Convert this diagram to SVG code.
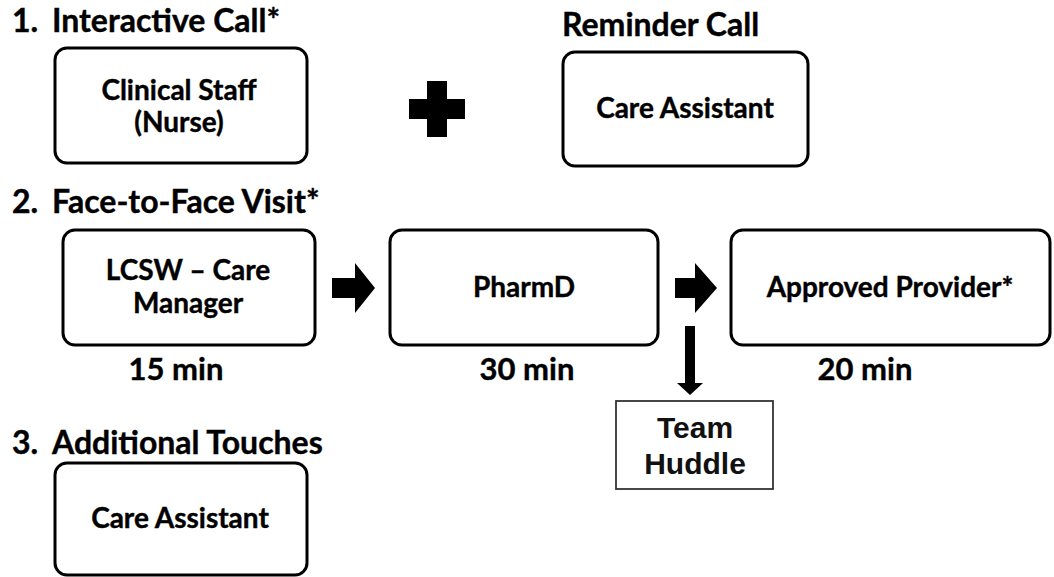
<svg xmlns="http://www.w3.org/2000/svg" width="1054" height="577" viewBox="0 0 1054 577">
<style>
.h{font-family:Lato,"Liberation Sans",sans-serif;font-weight:bold;font-size:32px;fill:#000;stroke:#000;stroke-width:0.4}
.t{font-family:Lato,"Liberation Sans",sans-serif;font-weight:bold;font-size:28px;fill:#000;stroke:#000;stroke-width:0.4;text-anchor:middle}
.m{font-family:Lato,"Liberation Sans",sans-serif;font-weight:bold;font-size:31px;fill:#000;stroke:#000;stroke-width:0.4;text-anchor:middle}
.a{font-family:"Liberation Sans",Arial,sans-serif;font-weight:bold;font-size:30px;fill:#111;text-anchor:middle}
.box{fill:#fff;stroke:#000;stroke-width:3}
.sq{fill:#fff;stroke:#333;stroke-width:1.8}
</style>
<rect width="1054" height="577" fill="#fff"/>
<g id="headers">
<text class="h" x="12" y="32">1.</text><text class="h" x="52" y="32">Interactive Call*</text>
<text class="h" x="562" y="36">Reminder Call</text>
<text class="h" x="12" y="213">2.</text><text class="h" x="52" y="213">Face-to-Face Visit*</text>
<text class="h" x="12" y="454">3.</text><text class="h" x="52" y="454">Additional Touches</text>
</g>
<g id="clinical-staff">
<rect class="box" x="55" y="48" width="252" height="115" rx="12"/>
<text class="t" x="179" y="100">Clinical Staff</text>
<text class="t" x="179" y="132">(Nurse)</text>
</g>
<g id="plus">
<path d="M427 81h20v18h18v20h-18v18h-20v-18h-18v-20h18z" fill="#000"/>
</g>
<g id="reminder-care-assistant">
<rect class="box" x="563" y="52" width="245" height="114" rx="12"/>
<text class="t" x="685" y="118">Care Assistant</text>
</g>
<g id="lcsw">
<rect class="box" x="63" y="230" width="252" height="115" rx="12"/>
<text class="t" x="188" y="280">LCSW – Care</text>
<text class="t" x="188" y="313">Manager</text>
<text class="m" x="176" y="380">15 min</text>
</g>
<g id="pharmd">
<rect class="box" x="390" y="230" width="268" height="115" rx="12"/>
<text class="t" x="524" y="297">PharmD</text>
<text class="m" x="527" y="380">30 min</text>
</g>
<g id="approved-provider">
<rect class="box" x="731" y="230" width="319" height="115" rx="12"/>
<text class="t" x="890" y="297">Approved Provider*</text>
<text class="m" x="865" y="380">20 min</text>
</g>
<g id="team-huddle">
<rect class="sq" x="616" y="401" width="157" height="88"/>
<text class="a" x="695" y="438">Team</text>
<text class="a" x="695" y="474">Huddle</text>
</g>
<g id="additional-care-assistant">
<rect class="box" x="55" y="463" width="252" height="112" rx="12"/>
<text class="t" x="180" y="528">Care Assistant</text>
</g>
<g id="connectors" fill="#000">
<path d="M332 278h23v-15l20 25-20 25v-15h-23z"/>
<path d="M675 278h20v-15l22 25-22 25v-15h-20z"/>
<path d="M685 326h10v57h8l-13 12-13-12h8z"/>
</g>
</svg>
